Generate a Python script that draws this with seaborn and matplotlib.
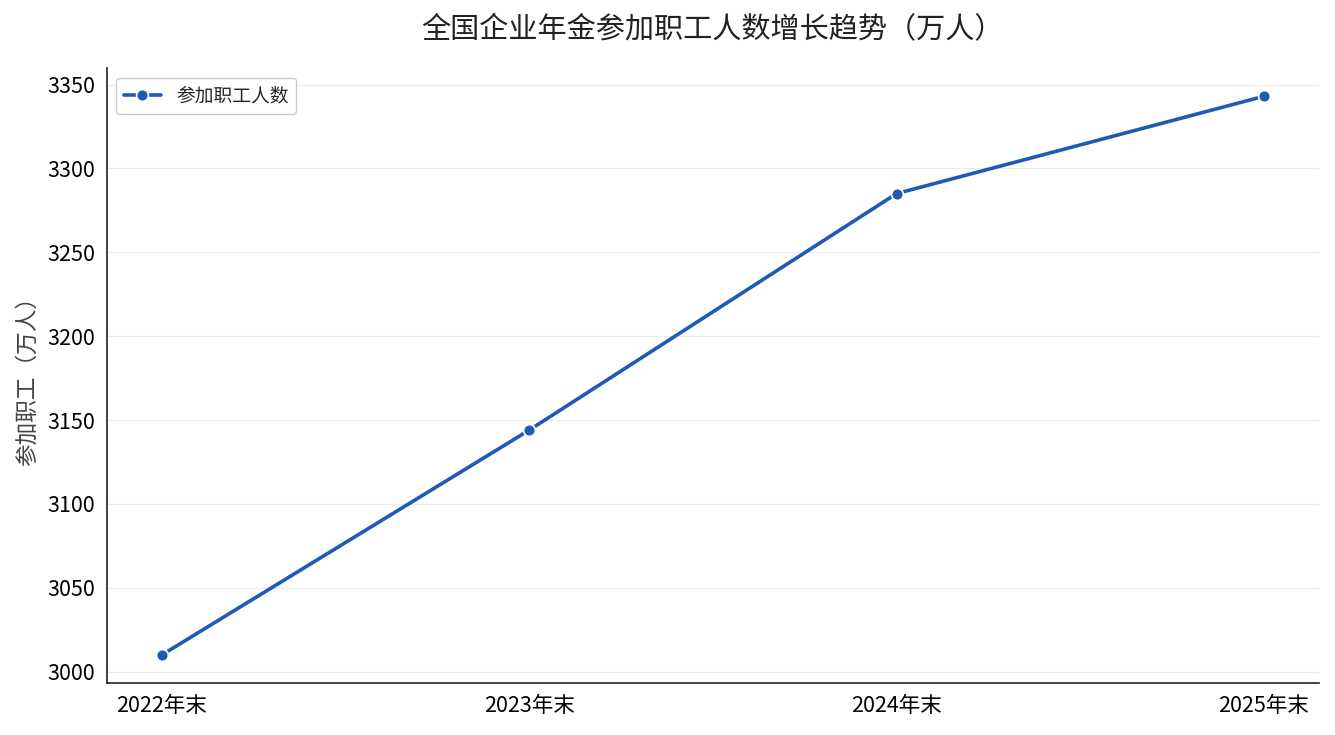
import matplotlib
matplotlib.use("Agg")
import matplotlib.pyplot as plt
import seaborn as sns
import pandas as pd

years = ["2022年末", "2023年末", "2024年末", "2025年末"]
values = [3010, 3144, 3285, 3343]
series_name = "参加职工人数"

sns.set_theme(style="white")
plt.rcParams['font.family'] = ['Noto Sans CJK SC', 'DejaVu Sans']
plt.rcParams['axes.unicode_minus'] = False

df = pd.DataFrame({"year": years, "value": values})
df["x"] = range(len(years))

fig, ax = plt.subplots(figsize=(13.35, 7.35), dpi=100)
fig.subplots_adjust(left=0.08, right=0.988, top=0.907, bottom=0.071)

sns.lineplot(data=df, x="x", y="value", ax=ax, color="#1f5bb5", linewidth=2.6,
             marker="o", markersize=8.5, markeredgecolor="white", markeredgewidth=1.2,
             label=series_name)

ax.set_xticks(df["x"])
ax.set_xticklabels(years)
ax.set_xlabel("")
ax.set_ylabel("参加职工（万人）", fontsize=16.3, color="#444444", labelpad=6)
ax.set_title("全国企业年金参加职工人数增长趋势（万人）", fontsize=21, color="#222222", pad=22)
ax.tick_params(axis="both", labelsize=15.5, colors="black", length=5, width=1.1, direction="out")
ax.yaxis.grid(True, color="#ebebeb", linewidth=0.8)
ax.xaxis.grid(False)
ax.set_axisbelow(True)
for s in ["top", "right"]:
    ax.spines[s].set_visible(False)
for s in ["left", "bottom"]:
    ax.spines[s].set_color("#222222")
    ax.spines[s].set_linewidth(1.2)

leg = ax.legend(loc="upper left", fontsize=13.5, frameon=True, fancybox=True,
                edgecolor="#cccccc", framealpha=1)
fig.savefig("out.png", dpi=100)
